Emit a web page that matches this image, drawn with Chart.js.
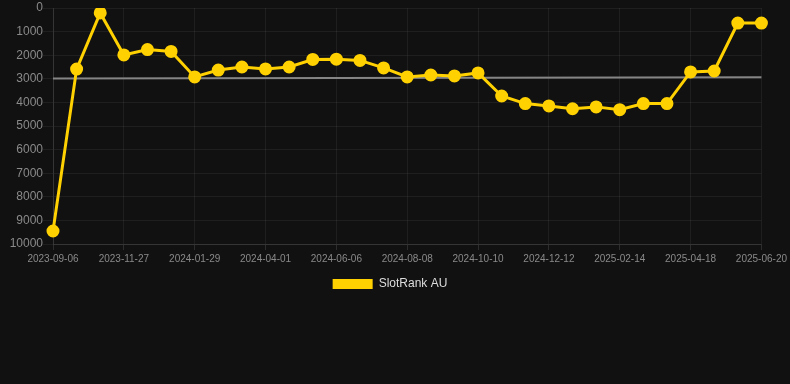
<!DOCTYPE html>
<html>
<head>
<meta charset="utf-8">
<script src="https://cdn.jsdelivr.net/npm/chart.js@4"></script>
<style>
  html, body { margin: 0; padding: 0; background: #111111; }
  #wrap { position: relative; width: 790px; height: 300px; }
</style>
</head>
<body>
<div id="wrap"><canvas id="c"></canvas></div>
<script>
const dates = [
  "2023-09-06","2023-10-03","2023-10-31","2023-11-27","2023-12-18","2024-01-08",
  "2024-01-29","2024-02-19","2024-03-11","2024-04-01","2024-04-23","2024-05-15",
  "2024-06-06","2024-06-27","2024-07-18","2024-08-08","2024-08-29","2024-09-19",
  "2024-10-10","2024-11-01","2024-11-22","2024-12-12","2025-01-02","2025-01-23",
  "2025-02-14","2025-03-07","2025-03-28","2025-04-18","2025-05-09","2025-05-30",
  "2025-06-20"
];
const rankAU = [
  9450, 2590, 210, 1990, 1760, 1840,
  2920, 2630, 2500, 2580, 2500, 2180,
  2170, 2220, 2540, 2920, 2840, 2880,
  2750, 3730, 4050, 4150, 4270, 4190,
  4310, 4050, 4050, 2710, 2670, 640,
  640
];
const trendStart = 2990;
const trendEnd = 2930;
const yTicks = [0,1000,2000,3000,4000,5000,6000,7000,8000,9000,10000];

const trend = dates.map((d, i) => (i === 0 ? trendStart : (i === dates.length - 1 ? trendEnd : null)));

new Chart(document.getElementById('c'), {
  type: 'line',
  data: {
    labels: dates,
    datasets: [
      {
        label: 'SlotRank AU',
        data: rankAU,
        borderColor: '#FFD100',
        backgroundColor: '#FFD100',
        borderWidth: 3,
        pointRadius: 5,
        pointHoverRadius: 5,
        pointBackgroundColor: '#FFD100',
        pointBorderColor: '#FFD100',
        tension: 0,
        order: 1
      },
      {
        label: 'trend',
        data: trend,
        spanGaps: true,
        borderColor: '#858585',
        backgroundColor: '#858585',
        borderWidth: 2,
        pointRadius: 0,
        tension: 0,
        order: 2
      }
    ]
  },
  options: {
    responsive: true,
    maintainAspectRatio: false,
    animation: false,
    layout: { padding: { left: 0, right: 0, top: -3, bottom: 0 } },
    plugins: {
      legend: {
        position: 'bottom',
        labels: {
          color: '#dddddd',
          font: { family: 'Arial, "Liberation Sans", sans-serif', size: 12 },
          boxWidth: 40,
          boxHeight: 10,
          filter: (item) => item.text.trim() === 'SlotRank AU',
          generateLabels: (chart) => Chart.defaults.plugins.legend.labels.generateLabels(chart)
            .map(it => Object.assign(it, { lineWidth: 0, text: it.text + '   ' }))
        }
      },
      tooltip: { enabled: false }
    },
    scales: {
      x: {
        grid: { color: 'rgba(255,255,255,0.06)', tickColor: 'rgba(255,255,255,0.12)', tickLength: 6 },
        border: { color: 'rgba(255,255,255,0.1)' },
        ticks: {
          color: '#8a8a8a',
          font: { family: 'Arial, "Liberation Sans", sans-serif', size: 10 },
          autoSkip: false,
          maxRotation: 0,
          minRotation: 0,
          callback: function(value, index) { return index % 3 === 0 ? dates[index] : null; }
        }
      },
      y: {
        reverse: true,
        min: 0,
        max: 10000,
        afterBuildTicks: (axis) => { axis.ticks = yTicks.map(v => ({ value: v })); },
        afterFit: (axis) => { axis.width = 53; },
        grid: { color: 'rgba(255,255,255,0.06)', tickLength: 10 },
        border: { color: 'rgba(255,255,255,0.1)' },
        ticks: {
          color: '#8a8a8a',
          padding: 0,
          font: { family: 'Arial, "Liberation Sans", sans-serif', size: 12 },
          callback: (v) => String(v)
        }
      }
    }
  }
});
</script>
</body>
</html>
